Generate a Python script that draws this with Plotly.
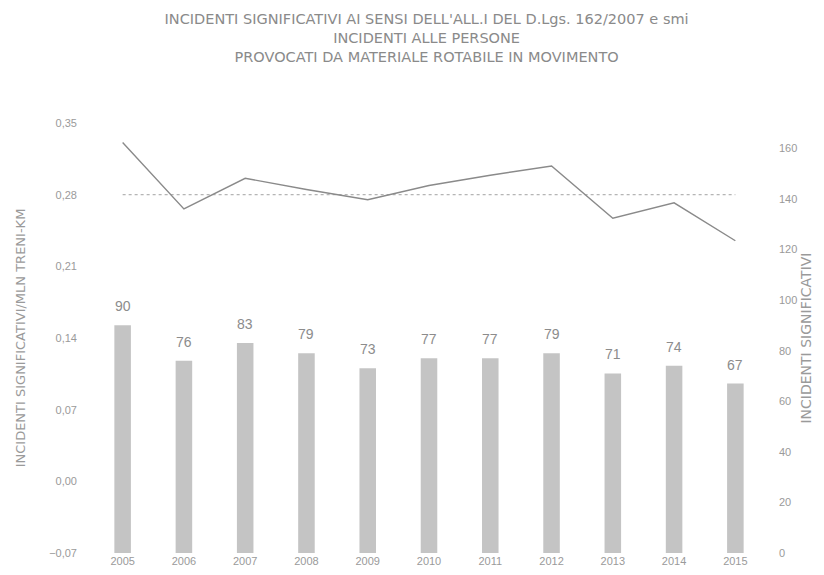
import plotly.graph_objects as go

years = ["2005", "2006", "2007", "2008", "2009", "2010", "2011", "2012", "2013", "2014", "2015"]
incidenti = [90, 76, 83, 79, 73, 77, 77, 79, 71, 74, 67]
tasso = [0.331, 0.266, 0.296, 0.285, 0.275, 0.289, 0.299, 0.308, 0.257, 0.272, 0.235]
riferimento = [0.28] * len(years)

left_ticks = [-0.07, 0.0, 0.07, 0.14, 0.21, 0.28, 0.35]
right_ticks = [0, 20, 40, 60, 80, 100, 120, 140, 160]

GREY = "#9a9a9a"
FONT = "Liberation Sans"
TFONT = "DejaVu Sans"

fig = go.Figure()

fig.add_trace(go.Bar(
    x=years, y=incidenti, yaxis="y", width=0.27,
    marker=dict(color="#c4c4c4", line=dict(width=0)),
    showlegend=False, hoverinfo="x+y",
))
fig.add_trace(go.Scatter(
    x=years, y=riferimento, yaxis="y2", mode="lines",
    line=dict(color="#b5b5b5", width=1.2, dash="dot"),
    showlegend=False,
))
fig.add_trace(go.Scatter(
    x=years, y=tasso, yaxis="y2", mode="lines",
    line=dict(color="#8a8a8a", width=1.4),
    showlegend=False,
))

annotations = []
for i, v in enumerate(incidenti):
    annotations.append(dict(
        x=i, y=v, xref="x", yref="y", text=str(v), showarrow=False,
        yanchor="bottom", yshift=9, font=dict(size=14, color="#8c8c8c", family=FONT),
    ))

fig.update_layout(
    width=824, height=575,
    margin=dict(l=82, r=66, t=115, b=30),
    paper_bgcolor="white", plot_bgcolor="white",
    separators=",.",
    title=dict(
        text="INCIDENTI SIGNIFICATIVI AI SENSI DELL'ALL.I DEL D.Lgs. 162/2007 e smi<br>"
             "INCIDENTI ALLE PERSONE<br>PROVOCATI DA MATERIALE ROTABILE IN MOVIMENTO",
        x=0.508, xanchor="center", y=0.972, yanchor="top",
        font=dict(size=14.5, color="#8a8a8a", family=TFONT),
    ),
    xaxis=dict(
        type="category", range=[-0.5, 10.5], showgrid=False, showline=False, zeroline=False,
        ticks="", tickfont=dict(size=11, color=GREY, family=FONT),
    ),
    yaxis=dict(
        side="right", range=[0, 170], tickvals=right_ticks,
        showgrid=False, zeroline=False, showline=False, ticks="",
        ticklabelstandoff=12,
        tickfont=dict(size=11, color=GREY, family=FONT),
        title=dict(text="INCIDENTI SIGNIFICATIVI", font=dict(size=14, color=GREY, family=TFONT), standoff=4),
    ),
    yaxis2=dict(
        side="left", overlaying="y", range=[-0.07, 0.35], tickvals=left_ticks,
        tickformat=".2f", showgrid=False, zeroline=False, showline=False, ticks="",
        ticklabelstandoff=14,
        tickfont=dict(size=11, color=GREY, family=FONT),
        title=dict(text="INCIDENTI SIGNIFICATIVI/MLN TRENI-KM", font=dict(size=13, color=GREY, family=TFONT), standoff=20),
    ),
    annotations=annotations,
)

fig.write_html("out.html")
